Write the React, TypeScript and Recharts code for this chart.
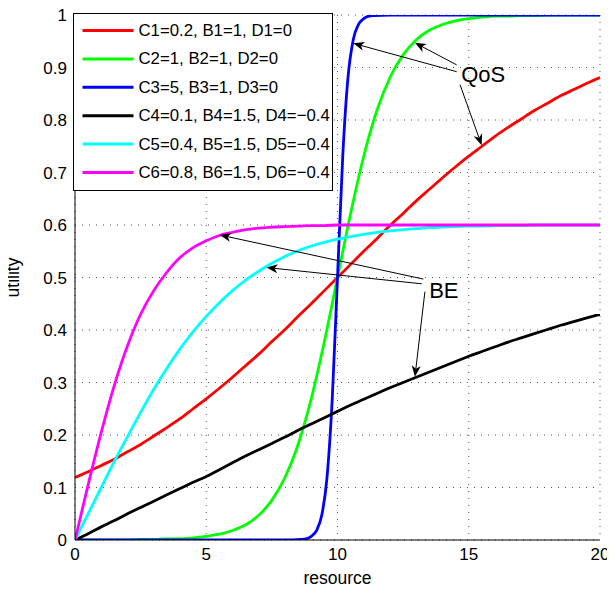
import React from 'react';
import {
  LineChart,
  Line,
  XAxis,
  YAxis,
  CartesianGrid,
  Legend,
  ReferenceLine,
  ReferenceDot
} from 'recharts';

// shared resource grid for five of the curves
const xGrid = [
  0, 0.5, 1, 1.5, 2, 2.5, 3, 3.5, 4, 4.5, 5, 5.5, 6, 6.5, 7, 7.5, 8, 8.5, 9, 9.5, 10,
  10.5, 11, 11.5, 12, 12.5, 13, 13.5, 14, 14.5, 15, 15.5, 16, 16.5, 17, 17.5, 18, 18.5, 19, 19.5, 20
];

const qos1 = [
  0.119, 0.13, 0.142, 0.154, 0.168, 0.182, 0.198, 0.214, 0.231, 0.25, 0.269, 0.289, 0.31, 0.332,
  0.354, 0.378, 0.401, 0.426, 0.45, 0.475, 0.5, 0.525, 0.55, 0.574, 0.599, 0.622, 0.646, 0.668,
  0.69, 0.711, 0.731, 0.75, 0.769, 0.786, 0.802, 0.818, 0.832, 0.846, 0.858, 0.87, 0.881
];

const qos2 = [
  0, 0, 0, 0, 0, 0.001, 0.001, 0.002, 0.002, 0.004, 0.007, 0.011, 0.018, 0.029, 0.047, 0.076,
  0.119, 0.182, 0.269, 0.378, 0.5, 0.622, 0.731, 0.818, 0.881, 0.924, 0.953, 0.971, 0.982, 0.989,
  0.993, 0.996, 0.998, 0.998, 0.999, 0.999, 1, 1, 1, 1, 1
];

const be4 = [
  0, 0.012, 0.025, 0.037, 0.05, 0.062, 0.074, 0.086, 0.098, 0.11, 0.121, 0.134, 0.147, 0.16,
  0.172, 0.184, 0.196, 0.209, 0.221, 0.233, 0.245, 0.257, 0.268, 0.279, 0.29, 0.3, 0.31, 0.32,
  0.33, 0.34, 0.35, 0.359, 0.368, 0.377, 0.385, 0.393, 0.401, 0.409, 0.416, 0.423, 0.43
];

const be5 = [
  0, 0.05, 0.1, 0.15, 0.197, 0.243, 0.287, 0.327, 0.364, 0.397, 0.426, 0.452, 0.475, 0.495,
  0.512, 0.527, 0.54, 0.551, 0.56, 0.567, 0.573, 0.578, 0.582, 0.586, 0.589, 0.591, 0.593, 0.595,
  0.596, 0.597, 0.598, 0.598, 0.599, 0.599, 0.599, 0.6, 0.6, 0.6, 0.6, 0.6, 0.6
];

const be6 = [
  0, 0.105, 0.205, 0.295, 0.37, 0.43, 0.475, 0.51, 0.538, 0.557, 0.57, 0.58, 0.586, 0.591,
  0.594, 0.596, 0.597, 0.598, 0.599, 0.599, 0.6, 0.6, 0.6, 0.6, 0.6, 0.6, 0.6, 0.6, 0.6, 0.6,
  0.6, 0.6, 0.6, 0.6, 0.6, 0.6, 0.6, 0.6, 0.6, 0.6, 0.6
];

// the steep one gets its own finer grid
const qos3X = [0, 8, 8.6, 8.8, 9, 9.2, 9.4, 9.6, 9.8, 10, 10.2, 10.4, 10.6, 10.8, 11, 11.2, 11.4, 12, 20];
const qos3 = [0, 0, 0.001, 0.002, 0.007, 0.018, 0.047, 0.119, 0.269, 0.5, 0.731, 0.881, 0.953, 0.982, 0.993, 0.998, 0.999, 1, 1];

const xTicks = [0, 5, 10, 15, 20];
const yTicks = [0, 0.1, 0.2, 0.3, 0.4, 0.5, 0.6, 0.7, 0.8, 0.9, 1];

const series = [
  { key: 'u1', name: 'C1=0.2, B1=1, D1=0', color: '#ff0000' },
  { key: 'u2', name: 'C2=1, B2=1, D2=0', color: '#00ff00' },
  { key: 'u3', name: 'C3=5, B3=1, D3=0', color: '#0000ff' },
  { key: 'u4', name: 'C4=0.1, B4=1.5, D4=\u22120.4', color: '#000000' },
  { key: 'u5', name: 'C5=0.4, B5=1.5, D5=\u22120.4', color: '#00ffff' },
  { key: 'u6', name: 'C6=0.8, B6=1.5, D6=\u22120.4', color: '#ff00ff' }
];

// annotation arrows, in data coordinates: [fromX, fromY, toX, toY]
const qosArrows = [
  [14.54, 0.892, 10.6, 0.946],
  [14.54, 0.905, 12.95, 0.947],
  [14.67, 0.867, 15.49, 0.752]
];
const beArrows = [
  [13.27, 0.497, 5.52, 0.581],
  [13.21, 0.488, 7.3, 0.519],
  [13.33, 0.473, 12.95, 0.311]
];
const notes = [
  { text: 'QoS', x: 15.55, y: 0.886 },
  { text: 'BE', x: 14.05, y: 0.476 }
];

const mainData = xGrid.map((x, i) => ({
  x,
  u1: qos1[i],
  u2: qos2[i],
  u4: be4[i],
  u5: be5[i],
  u6: be6[i]
}));
const steepData = qos3X.map((x, i) => ({ x, u3: qos3[i] }));

const FONT = '"Liberation Sans", Arial, Helvetica, sans-serif';

const arrowShape = (props: any) => {
  const { x1, y1, x2, y2 } = props;
  const dx = x2 - x1;
  const dy = y2 - y1;
  const len = Math.hypot(dx, dy) || 1;
  const ux = dx / len;
  const uy = dy / len;
  const px = -uy;
  const py = ux;
  const L = 11;
  const W = 4.5;
  const notch = 8;
  const bx = x2 - ux * L;
  const by = y2 - uy * L;
  const nx = x2 - ux * notch;
  const ny = y2 - uy * notch;
  const head = `M${x2},${y2} L${bx + px * W},${by + py * W} L${nx},${ny} L${bx - px * W},${by - py * W} Z`;
  return (
    <g>
      <line x1={x1} y1={y1} x2={nx} y2={ny} stroke="#000" strokeWidth={1} />
      <path d={head} fill="#000" />
    </g>
  );
};

const renderLegend = () => (
  <div
    style={{
      width: 260,
      height: 178,
      boxSizing: 'border-box',
      border: '1.5px solid #000',
      background: '#fff'
    }}
  >
    <svg width={257} height={175} style={{ display: 'block' }}>
      {series.map((s, i) => {
        const y = 16.5 + i * 28.4;
        return (
          <g key={s.key}>
            <line x1={8.5} x2={59.5} y1={y} y2={y} stroke={s.color} strokeWidth={3} />
            <text
              x={64.5}
              y={y}
              dominantBaseline="central"
              fontSize={16.8}
              fontFamily={FONT}
              fill="#000"
            >
              {s.name}
            </text>
          </g>
        );
      })}
    </svg>
  </div>
);

const xLabel = (props: any) => {
  const vb = props.viewBox;
  return (
    <text
      x={vb.x + vb.width / 2}
      y={vb.y + 38}
      textAnchor="middle"
      dominantBaseline="central"
      fontSize={17.5}
      fontFamily={FONT}
      fill="#000"
    >
      resource
    </text>
  );
};

const yLabel = (props: any) => {
  const vb = props.viewBox;
  const cx = vb.x + 13;
  const cy = vb.y + vb.height / 2;
  return (
    <text
      x={cx}
      y={cy}
      transform={`rotate(-90 ${cx} ${cy})`}
      textAnchor="middle"
      dominantBaseline="central"
      fontSize={17.5}
      fontFamily={FONT}
      fill="#000"
    >
      utility
    </text>
  );
};

const App: React.FC = () => {
  const tickStyle = { fontSize: 17, fontFamily: FONT, fill: '#000' };

  return (
    // pulled over the body margin so the chart spans the whole window
    <div style={{ position: 'relative', left: -8, top: -8, width: 615, height: 593 }}>
      <LineChart width={615} height={593} margin={{ top: 15, right: 15, left: 0, bottom: 0 }}>
        <CartesianGrid stroke="#555" strokeDasharray="1 6" />
        <XAxis
          type="number"
          dataKey="x"
          domain={[0, 20]}
          ticks={xTicks}
          allowDataOverflow
          height={53}
          stroke="#000"
          tickLine={false}
          tick={tickStyle}
          label={xLabel}
        />
        <YAxis
          type="number"
          domain={[0, 1]}
          ticks={yTicks}
          allowDataOverflow
          width={75}
          stroke="#000"
          tickLine={false}
          tick={tickStyle}
          tickFormatter={(v: number) => String(Math.round(v * 10) / 10)}
          label={yLabel}
        />
        <Legend
          layout="vertical"
          align="center"
          verticalAlign="middle"
          content={renderLegend}
          wrapperStyle={{ left: 73, top: 13, width: 260, height: 178 }}
        />
        <Line data={mainData} dataKey="u1" name={series[0].name} stroke={series[0].color} strokeWidth={2.8} type="monotone" dot={false} isAnimationActive={false} />
        <Line data={mainData} dataKey="u2" name={series[1].name} stroke={series[1].color} strokeWidth={2.8} type="monotone" dot={false} isAnimationActive={false} />
        <Line data={steepData} dataKey="u3" name={series[2].name} stroke={series[2].color} strokeWidth={2.8} type="monotone" dot={false} isAnimationActive={false} />
        <Line data={mainData} dataKey="u4" name={series[3].name} stroke={series[3].color} strokeWidth={2.8} type="monotone" dot={false} isAnimationActive={false} />
        <Line data={mainData} dataKey="u5" name={series[4].name} stroke={series[4].color} strokeWidth={2.8} type="monotone" dot={false} isAnimationActive={false} />
        <Line data={mainData} dataKey="u6" name={series[5].name} stroke={series[5].color} strokeWidth={2.8} type="monotone" dot={false} isAnimationActive={false} />
        {[...qosArrows, ...beArrows].map((a, i) => (
          <ReferenceLine
            key={`arrow-${i}`}
            segment={[
              { x: a[0], y: a[1] },
              { x: a[2], y: a[3] }
            ]}
            shape={arrowShape}
          />
        ))}
        {notes.map((n) => (
          <ReferenceDot
            key={n.text}
            x={n.x}
            y={n.y}
            r={0}
            shape={(p: any) => (
              <text
                x={p.cx}
                y={p.cy}
                textAnchor="middle"
                dominantBaseline="central"
                fontSize={22}
                fontFamily={FONT}
                fill="#000"
              >
                {n.text}
              </text>
            )}
          />
        ))}
      </LineChart>
    </div>
  );
};

export default App;
